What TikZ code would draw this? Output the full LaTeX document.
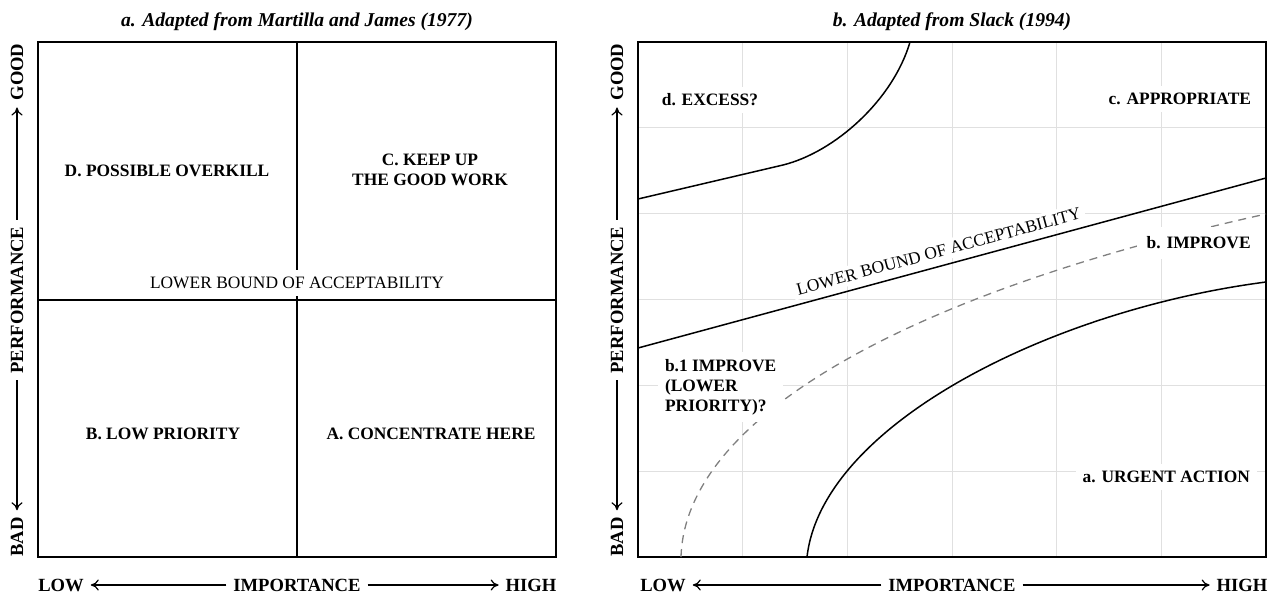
\documentclass[tikz,border=0pt]{standalone}
\usepackage{fontspec}
\setmainfont{Liberation Serif}
\usetikzlibrary{arrows.meta,positioning}

\begin{document}
\begin{tikzpicture}[x=0.5pt, y=-0.5pt,
  frame/.style={line width=1pt},
  divider/.style={line width=0.8pt},
  heading/.style={font=\fontsize{9.8}{12}\selectfont\bfseries\itshape},
  axis/.style={font=\fontsize{9.3}{11}\selectfont\bfseries},
  quad/.style={font=\fontsize{8.7}{10}\selectfont\bfseries, align=center},
  bound/.style={font=\fontsize{8.7}{10}\selectfont, fill=white},
  axarrow/.style={-{To[length=4pt,width=5.5pt]}, line width=0.6pt},
  gridline/.style={draw=black!12, line width=0.5pt},
  curve/.style={line width=0.75pt},
  hint/.style={line width=0.65pt, draw=black!50, dash pattern=on 4pt off 3pt}
]
\useasboundingbox (0,0) rectangle (1279,600);

% ---- a. quadrant chart ----
\node (ta) [heading] at (297,22) {a. Adapted from Martilla and James (1977)};
\draw[frame] (38,42) rectangle (556,557);
\coordinate (at) at (297,42);
\coordinate (ab) at (297,557);
\coordinate (al) at (38,300);
\coordinate (ar) at (556,300);
\draw[divider] (at) -- (ab);
\draw[divider] (al) -- (ar);

\node (qd) [quad] at (167,171) {D. POSSIBLE OVERKILL};
\node (qc) [quad] at (430,170) {C. KEEP UP\\THE GOOD WORK};
\node (qb) [quad] at (163,434) {B. LOW PRIORITY};
\node (qa) [quad] at (431,434) {A. CONCENTRATE HERE};
\node (lba) [bound] at (297,283) {LOWER BOUND OF ACCEPTABILITY};

\node (gooda) [axis, rotate=90] at (17,72) {GOOD};
\node (perfa) [axis, rotate=90] at (17,300) {PERFORMANCE};
\node (bada) [axis, rotate=90] at (17,537) {BAD};
\node (lowa) [axis] at (61,585) {LOW};
\node (impa) [axis] at (297,585) {IMPORTANCE};
\node (higha) [axis] at (531,585) {HIGH};
\path [axarrow]
  (perfa) edge (gooda)
  (perfa) edge (bada)
  (impa) edge (lowa)
  (impa) edge (higha);

% ---- b. zone chart on a 6x6 grid ----
\node (tb) [heading] at (952,22) {b. Adapted from Slack (1994)};
\foreach \i in {1,...,5} {
  \draw[gridline] ({638+\i*104.67},42) -- ({638+\i*104.67},557);
  \draw[gridline] (638,{42+\i*85.83}) -- (1266,{42+\i*85.83});
}
\draw[frame] (638,42) rectangle (1266,557);

% excess boundary
\coordinate (ex1) at (638,199);
\coordinate (ex2) at (783,165);
\coordinate (ex3) at (910,42);
\draw[curve] (ex1) -- (ex2) .. controls (835,152) and (893,100) .. (ex3);
% lower bound of acceptability
\coordinate (lb1) at (638,348);
\coordinate (lb2) at (1266,178);
\draw[curve] (lb1) -- node (lbb) [bound, sloped, above=2pt, pos=0.485, inner sep=2pt] {LOWER BOUND OF ACCEPTABILITY} (lb2);
% improve / lower priority split
\coordinate (im1) at (681,557);
\coordinate (im2) at (1266,214);
\draw[hint] (im1) .. controls (685,420) and (900,295) .. (im2);
% urgent action boundary
\coordinate (ua1) at (807,557);
\coordinate (ua2) at (1266,282);
\draw[curve] (ua1) .. controls (822,425) and (1050,310) .. (ua2);

\node (ze) [quad, fill=white] at (710,100) {d. EXCESS?};
\node (zc) [quad, fill=white, anchor=east] at (1258,99) {c. APPROPRIATE};
\node (zb) [quad, fill=white, anchor=east, inner sep=5pt] at (1261,243) {b. IMPROVE};
\node (zb1) [quad, fill=white, align=left, anchor=west] at (658,387) {b.1 IMPROVE\\(LOWER\\PRIORITY)?};
\node (za) [quad, fill=white, anchor=east] at (1257,477) {a. URGENT ACTION};

\node (goodb) [axis, rotate=90] at (617,72) {GOOD};
\node (perfb) [axis, rotate=90] at (617,300) {PERFORMANCE};
\node (badb) [axis, rotate=90] at (617,537) {BAD};
\node (lowb) [axis] at (663,585) {LOW};
\node (impb) [axis] at (952,585) {IMPORTANCE};
\node (highb) [axis] at (1242,585) {HIGH};
\path [axarrow]
  (perfb) edge (goodb)
  (perfb) edge (badb)
  (impb) edge (lowb)
  (impb) edge (highb);
\end{tikzpicture}
\end{document}
